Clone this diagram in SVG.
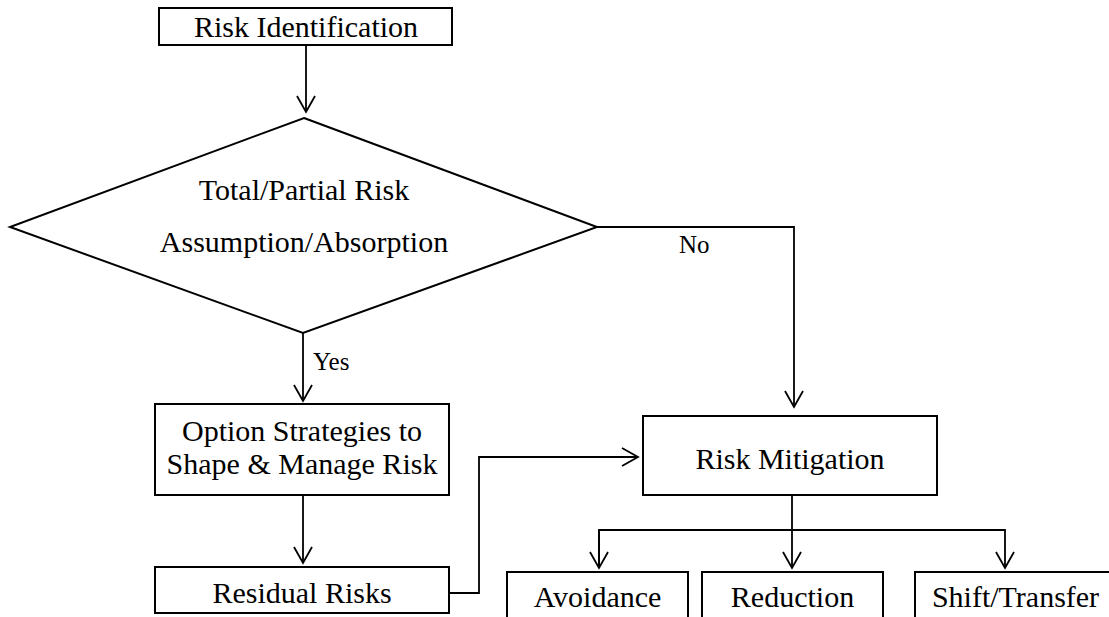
<svg xmlns="http://www.w3.org/2000/svg" width="1109" height="617" viewBox="0 0 1109 617">
<style>
  .box { fill: #fff; stroke: #000; stroke-width: 2; }
  .t { font-family: "Liberation Serif", "Times New Roman", serif; font-size: 30px; fill: #000; text-anchor: middle; }
  .lbl { font-family: "Liberation Serif", "Times New Roman", serif; font-size: 25px; fill: #000; }
  .conn { fill: none; stroke: #000; stroke-width: 1.8; }
</style>
<defs>
  <marker id="arr" markerUnits="userSpaceOnUse" markerWidth="20" markerHeight="22" viewBox="-18 -11 20 22" refX="0" refY="0" orient="auto">
    <path d="M-16,-9 L0,0 L-16,9" fill="none" stroke="#000" stroke-width="1.8"/>
  </marker>
</defs>
<rect width="1109" height="617" fill="#fff"/>
<g id="connectors">
  <path class="conn" d="M306,45 V112" marker-end="url(#arr)"/>
  <path class="conn" d="M303,333 V401" marker-end="url(#arr)"/>
  <path class="conn" d="M303,495 V563" marker-end="url(#arr)"/>
  <path class="conn" d="M449,593 H479 V457 H638" marker-end="url(#arr)"/>
  <path class="conn" d="M597,227 H794 V407" marker-end="url(#arr)"/>
  <path class="conn" d="M792,495 V568" marker-end="url(#arr)"/>
  <path class="conn" d="M599,568 V530 H1005 V568" marker-end="url(#arr)"/>
  <path class="conn" d="M599,530 V568" marker-end="url(#arr)"/>
  <text class="lbl" x="679" y="253">No</text>
  <text class="lbl" x="313" y="370">Yes</text>
</g>
<g id="risk-identification">
  <rect class="box" x="159" y="8" width="293" height="37"/>
  <text class="t" x="306" y="37">Risk Identification</text>
</g>
<g id="decision">
  <polygon class="box" points="304,118 597,227 303,333 10,227"/>
  <text class="t" x="304" y="200">Total/Partial Risk</text>
  <text class="t" x="304" y="252">Assumption/Absorption</text>
</g>
<g id="option-strategies">
  <rect class="box" x="155" y="404" width="294" height="91"/>
  <text class="t" x="302" y="441">Option Strategies to</text>
  <text class="t" x="302" y="474">Shape &amp; Manage Risk</text>
</g>
<g id="residual-risks">
  <rect class="box" x="155" y="567" width="294" height="46"/>
  <text class="t" x="302" y="603">Residual Risks</text>
</g>
<g id="risk-mitigation">
  <rect class="box" x="643" y="416" width="294" height="79"/>
  <text class="t" x="790" y="469">Risk Mitigation</text>
</g>
<g id="avoidance">
  <rect class="box" x="507" y="572" width="181" height="60"/>
  <text class="t" x="597.5" y="607">Avoidance</text>
</g>
<g id="reduction">
  <rect class="box" x="702" y="572" width="181" height="60"/>
  <text class="t" x="792.5" y="607">Reduction</text>
</g>
<g id="shift-transfer">
  <rect class="box" x="915" y="572" width="201" height="60"/>
  <text class="t" x="1015.5" y="607">Shift/Transfer</text>
</g>
</svg>
